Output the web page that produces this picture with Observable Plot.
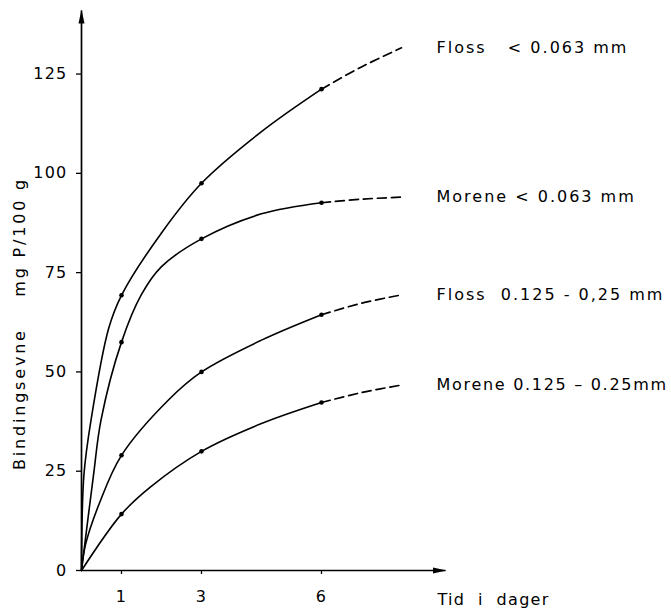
<!DOCTYPE html>
<html>
<head>
<meta charset="utf-8">
<script src="https://cdn.jsdelivr.net/npm/d3@7"></script>
<script src="https://cdn.jsdelivr.net/npm/@observablehq/plot@0.6"></script>
<style>
  html, body { margin: 0; padding: 0; background: #fff; }
  svg { font-family: "DejaVu Sans", sans-serif; }
</style>
</head>
<body>
<div id="chart"></div>
<script>
// ---- data ----
const seriesNames = [
  "Floss\u00a0\u00a0\u00a0< 0.063\u00a0mm",
  "Morene < 0.063\u00a0mm",
  "Floss\u00a0\u00a00.125 - 0,25\u00a0mm",
  "Morene\u00a00.125 \u2013 0.25mm"
];
const measuredDays = [1, 3, 6];
const measuredFlossFine   = [69.3, 97.5, 121.2];
const measuredMoreneFine  = [57.5, 83.5, 92.6];
const measuredFlossCoarse = [29.0, 50.0, 64.4];
const measuredMoreneCoarse = [14.2, 30.0, 42.3];

// solid curve traces (days, value)
const traceDaysFlossFine   = [0, 0.06, 0.24, 0.68, 1, 2, 3, 4.5, 6];
const traceValsFlossFine   = [0, 24, 38, 61, 69.3, 85, 97.5, 110.5, 121.2];
const traceDaysMoreneFine  = [0, 0.3, 0.49, 1, 1.5, 2, 3, 4.5, 6];
const traceValsMoreneFine  = [0, 24, 38, 57.5, 69.5, 76.5, 83.5, 89.8, 92.6];
const traceDaysFlossCoarse = [0, 0.1, 0.45, 1, 2.18, 3, 4.5, 6];
const traceValsFlossCoarse = [0, 6.5, 17, 29.0, 43, 50.0, 58, 64.4];
const traceDaysMoreneCoarse = [0, 1, 1.72, 3, 4.5, 6];
const traceValsMoreneCoarse = [0, 14.2, 21, 30.0, 37, 42.3];

// dashed extrapolations (days, value)
const dashDays = [6, 7, 8];
const dashFlossFine   = [121.2, 126.8, 131.6];
const dashMoreneFine  = [92.6, 93.5, 94.0];
const dashFlossCoarse = [64.4, 67.3, 69.4];
const dashMoreneCoarse = [42.3, 44.8, 46.7];

const yTicks = [0, 25, 50, 75, 100, 125];
const xTicks = [1, 3, 6];
const xTitle = "Tid\u00a0\u00a0i\u00a0\u00a0dager";
const yTitle = "Bindingsevne\u00a0\u00a0\u00a0\u00a0mg\u00a0P/100\u00a0g";
const xMax = 9.1, yMax = 141;

// ---- build tables ----
const traces = [
  [traceDaysFlossFine, traceValsFlossFine],
  [traceDaysMoreneFine, traceValsMoreneFine],
  [traceDaysFlossCoarse, traceValsFlossCoarse],
  [traceDaysMoreneCoarse, traceValsMoreneCoarse]
];
const dashes = [dashFlossFine, dashMoreneFine, dashFlossCoarse, dashMoreneCoarse];
const measured = [measuredFlossFine, measuredMoreneFine, measuredFlossCoarse, measuredMoreneCoarse];

const solidRows = traces.flatMap(([ds, vs], i) => ds.map((d, j) => ({series: seriesNames[i], day: d, value: vs[j]})));
const dashRows = dashes.flatMap((vs, i) => dashDays.map((d, j) => ({series: seriesNames[i], day: d, value: vs[j]})));
const dotRows = measured.flatMap((vs, i) => measuredDays.map((d, j) => ({series: seriesNames[i], day: d, value: vs[j]})));
const labelRows = dashes.map((vs, i) => ({series: seriesNames[i], day: dashDays[dashDays.length - 1], value: vs[vs.length - 1]}));
const axisRows = [
  {x1: 0, y1: 0, x2: xMax, y2: 0},
  {x1: 0, y1: 0, x2: 0, y2: yMax}
];

const plot = Plot.plot({
  width: 671,
  height: 611,
  marginLeft: 81,
  marginRight: 226,
  marginTop: 10,
  marginBottom: 41,
  x: {domain: [0, xMax]},
  y: {domain: [0, yMax]},
  style: {fontFamily: "DejaVu Sans", fontSize: "16px", color: "#000", background: "#fff"},
  marks: [
    Plot.axisY(yTicks, {tickSize: 5, tickPadding: 9, label: null, strokeWidth: 1.3, ariaDescription: "y-ticks"}),
    Plot.axisX(xTicks, {tickSize: 4, tickPadding: 16, label: null, strokeWidth: 1.3, ariaDescription: "x-ticks"}),
    Plot.link(axisRows, {x1: "x1", y1: "y1", x2: "x2", y2: "y2", stroke: "#000", strokeWidth: 1.7, ariaDescription: "axis-line"}),
    Plot.line(solidRows, {x: "day", y: "value", z: "series", curve: "catmull-rom", stroke: "#000", strokeWidth: 1.6}),
    Plot.line(dashRows, {x: "day", y: "value", z: "series", curve: "catmull-rom", stroke: "#000", strokeWidth: 1.7, strokeDasharray: "9,5"}),
    Plot.dot(dotRows, {x: "day", y: "value", r: 2.3, fill: "#000", stroke: null}),
    Plot.text(labelRows, {x: "day", y: "value", text: "series", textAnchor: "start", dx: 35, fontSize: 16, fill: "#000", ariaDescription: "series-label"}),
    Plot.text([xTitle], {frameAnchor: "bottom-right", textAnchor: "start", dx: -8, dy: 34, fontSize: 16, fill: "#000", ariaDescription: "x-title"}),
    Plot.text([yTitle], {frameAnchor: "left", textAnchor: "middle", rotate: -90, dx: -62, dy: 33, fontSize: 16, fill: "#000", ariaDescription: "y-title"})
  ]
});

// letter spacing of the stencil lettering
const svg = d3.select(plot);
const labelSpacing = ["2px", "2px", "2px", "1.7px"];
svg.selectAll('[aria-description="series-label"] text').style("letter-spacing", (d, i) => labelSpacing[i]);
svg.selectAll('[aria-description="x-title"] text').style("letter-spacing", "1.3px");
svg.selectAll('[aria-description="y-title"] text').style("letter-spacing", "2.8px");
svg.selectAll('[aria-description="y-ticks"] text, [aria-description="x-ticks"] text').style("letter-spacing", "1.2px");

// filled arrowheads on the axis lines
const defs = svg.insert("defs", ":first-child");
defs.append("marker")
  .attr("id", "axis-head")
  .attr("viewBox", "0 -4 14 8")
  .attr("refX", 13)
  .attr("refY", 0)
  .attr("markerWidth", 14)
  .attr("markerHeight", 8)
  .attr("markerUnits", "userSpaceOnUse")
  .attr("orient", "auto")
  .append("path")
  .attr("d", "M0,-3L14,0L0,3Z")
  .attr("fill", "#000");
svg.selectAll('[aria-description="axis-line"] path, [aria-description="axis-line"] line').attr("marker-end", "url(#axis-head)");

document.getElementById("chart").appendChild(plot);
</script>
</body>
</html>
